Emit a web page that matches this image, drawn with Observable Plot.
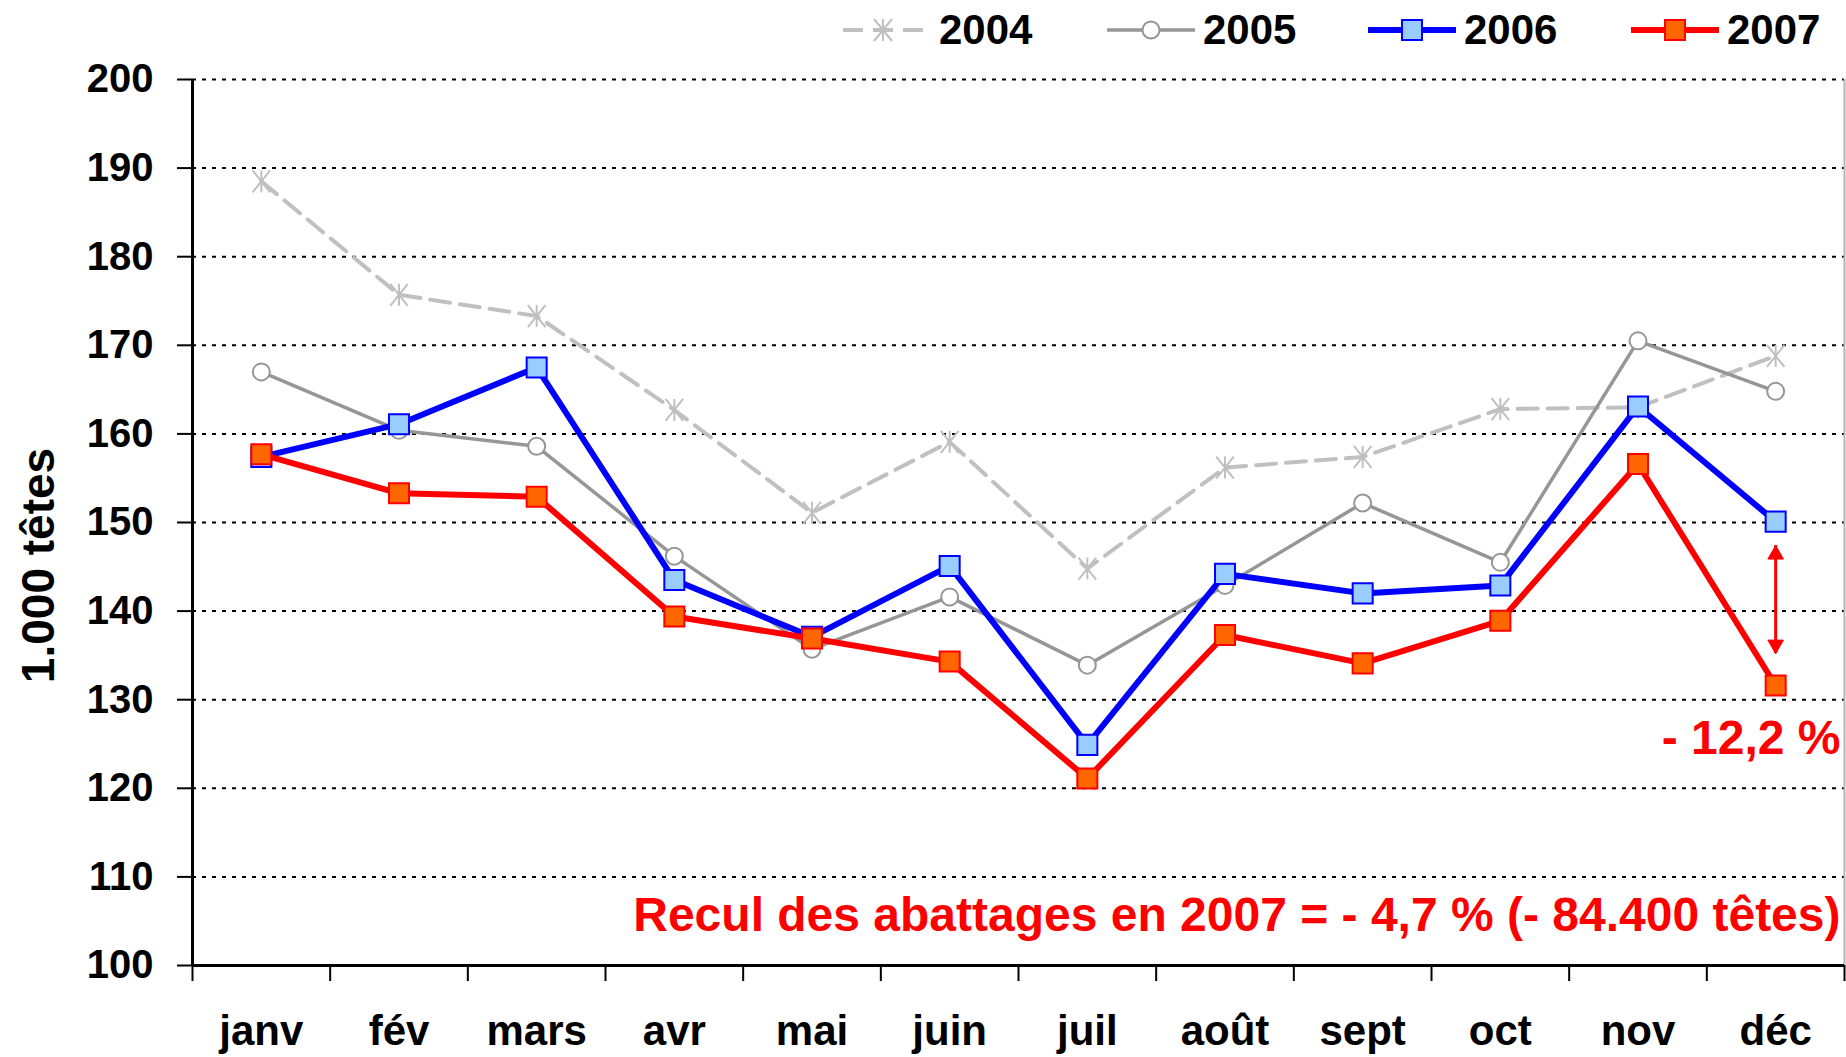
<!DOCTYPE html>
<html><head><meta charset="utf-8">
<script src="https://cdn.jsdelivr.net/npm/d3@7"></script>
<script src="https://cdn.jsdelivr.net/npm/@observablehq/plot@0.6"></script>
<style>
html,body{margin:0;padding:0;background:#fff;}
body{width:1846px;height:1057px;overflow:hidden;position:relative;font-family:'Liberation Sans',Arial,sans-serif;}
#legend{position:absolute;top:0;left:0;width:1846px;height:55px;}
.item{position:absolute;top:8px;height:44px;display:flex;align-items:center;}
.item span{font-weight:bold;font-size:42px;margin-left:8px;line-height:44px;color:#000;}
#chart{position:absolute;top:55px;left:0;}
</style></head><body>
<div id="legend"></div><div id="chart"></div>
<script>
// ---- data ----
const months = ["janv","fév","mars","avr","mai","juin","juil","août","sept","oct","nov","déc"];
const yearLabels = ["2004","2005","2006","2007"];
const v2004 = [188.5,175.7,173.3,162.7,151.1,159.1,144.8,156.2,157.4,162.8,163.0,168.8];
const v2005 = [167.0,160.4,158.6,146.2,135.7,141.6,133.9,142.9,152.2,145.5,170.5,164.8];
const v2006 = [157.4,161.1,167.5,143.5,137.1,145.1,124.9,144.2,142.0,142.9,163.1,150.1];
const v2007 = [157.7,153.3,152.9,139.4,136.9,134.3,121.1,137.3,134.1,138.9,156.6,131.6];
const yTicks = [100,110,120,130,140,150,160,170,180,190,200];
const xBounds = [0,1,2,3,4,5,6,7,8,9,10,11,12];
const yTitle = ["1.000 têtes"];
const annotTexts = ["- 12,2 %", "Recul des abattages en 2007 = - 4,7 % (- 84.400 têtes)"];
const annotY = [125.6, 105.6];
const arrowMonth = [11];
const arrowTop = 147.4;
const arrowBottom = 135.2;

// ---- styles ----
const asterisk = {
  draw(context, size) {
    const r = Math.sqrt(size / Math.PI);
    const d = r * 0.8;
    context.moveTo(0, -r); context.lineTo(0, r);
    context.moveTo(-d, -r); context.lineTo(d, r);
    context.moveTo(-d, r); context.lineTo(d, -r);
  }
};
const styles = {
  "2004": {stroke:"#c0c0c0", width:4, dash:"20,10", symbol:asterisk, r:11, fill:"none", mstroke:"#c0c0c0", mwidth:2},
  "2005": {stroke:"#969696", width:3.5, dash:null, symbol:"circle", r:8.5, fill:"#ffffff", mstroke:"#969696", mwidth:2},
  "2006": {stroke:"#0000ff", width:6, dash:null, symbol:"square", r:11.3, fill:"#99ccff", mstroke:"#0000ff", mwidth:2},
  "2007": {stroke:"#ff0000", width:6, dash:null, symbol:"square", r:11.3, fill:"#ff6600", mstroke:"#ff0000", mwidth:2}
};
const seriesValues = {"2004": v2004, "2005": v2005, "2006": v2006, "2007": v2007};
const rows = yearLabels.flatMap(y => seriesValues[y].map((v, i) => ({year: y, i, month: months[i], value: v})));

// ---- legend (HTML) ----
const legendLeft = {"2004": 843, "2005": 1107, "2006": 1368, "2007": 1631};
const legend = document.getElementById("legend");
for (const y of yearLabels) {
  const s = styles[y];
  let marker = "";
  if (y === "2004") {
    marker = `<path d="M40,4V26M31,4L49,26M31,26L49,4" stroke="${s.mstroke}" stroke-width="2" fill="none"/>`;
  } else if (y === "2005") {
    marker = `<circle cx="44" cy="15" r="8.5" fill="#fff" stroke="${s.mstroke}" stroke-width="2"/>`;
  } else {
    marker = `<rect x="34" y="5" width="20" height="20" fill="${s.fill}" stroke="${s.mstroke}" stroke-width="2"/>`;
  }
  const div = document.createElement("div");
  div.className = "item";
  div.style.left = legendLeft[y] + "px";
  div.innerHTML = `<svg width="88" height="30"><line x1="0" x2="88" y1="15" y2="15" stroke="${s.stroke}" stroke-width="${s.width}" ${s.dash ? `stroke-dasharray="${s.dash}"` : ""}/>${marker}</svg><span>${y}</span>`;
  legend.appendChild(div);
}

// ---- chart ----
const xPos = d => d.i + 0.5;
const seriesMarks = yearLabels.flatMap(y => {
  const s = styles[y];
  const data = rows.filter(d => d.year === y);
  return [
    Plot.line(data, {x: xPos, y: "value", stroke: s.stroke, strokeWidth: s.width, strokeDasharray: s.dash ?? undefined}),
    Plot.dot(data, {x: xPos, y: "value", symbol: s.symbol, r: s.r, fill: s.fill, stroke: s.mstroke, strokeWidth: s.mwidth})
  ];
});

const chart = Plot.plot({
  width: 1846,
  height: 1002,
  marginTop: 24,
  marginBottom: 92,
  marginLeft: 192,
  marginRight: 2,
  x: {type: "linear", domain: [0, 12]},
  y: {domain: [100, 200]},
  style: {fontFamily: "'Liberation Sans', Arial, sans-serif", background: "white", overflow: "visible", color: "black"},
  marks: [
    Plot.ruleY(yTicks.filter(t => t > 100), {stroke: "black", strokeWidth: 2, strokeDasharray: "4,6"}),
    Plot.ruleX([12], {stroke: "#b4b4b4", strokeWidth: 2}),
    Plot.axisY({ticks: yTicks, tickSize: 15, tickPadding: 24, fontSize: 40, fontWeight: "bold", strokeWidth: 2, label: null}),
    Plot.axisX({ticks: xBounds, tickSize: 16, tickFormat: () => "", strokeWidth: 2, label: null}),
    Plot.axisX({ticks: months.map((m, i) => i + 0.5), tickSize: 0, tickPadding: 50, tickFormat: d => months[Math.round(d - 0.5)], fontSize: 42, fontWeight: "bold", label: null}),
    Plot.ruleX([0], {stroke: "black", strokeWidth: 3}),
    Plot.ruleY([100], {stroke: "black", strokeWidth: 3}),
    Plot.text(yTitle, {frameAnchor: "left", textAnchor: "middle", rotate: -90, dx: -153, dy: 43, fontSize: 46, fontWeight: "bold", fill: "black"}),
    ...seriesMarks,
    Plot.ruleX(arrowMonth, {x: d => d + 0.5, y1: arrowTop, y2: arrowBottom, stroke: "#ff0000", strokeWidth: 3}),
    Plot.dot(arrowMonth, {x: d => d + 0.5, y: arrowTop, symbol: "triangle", r: 5.8, fill: "#ff0000", stroke: "#ff0000", strokeWidth: 1, dy: 9}),
    Plot.dot(arrowMonth, {x: d => d + 0.5, y: arrowBottom, symbol: "triangle", r: 5.8, fill: "#ff0000", stroke: "#ff0000", strokeWidth: 1, rotate: 180, dy: -9}),
    Plot.text(annotTexts, {x: 12, y: (d, i) => annotY[i], text: d => d, textAnchor: "end", dx: -4, fill: "#ff0000", fontSize: 48, fontWeight: "bold"})
  ]
});
document.getElementById("chart").appendChild(chart);
</script></body></html>
